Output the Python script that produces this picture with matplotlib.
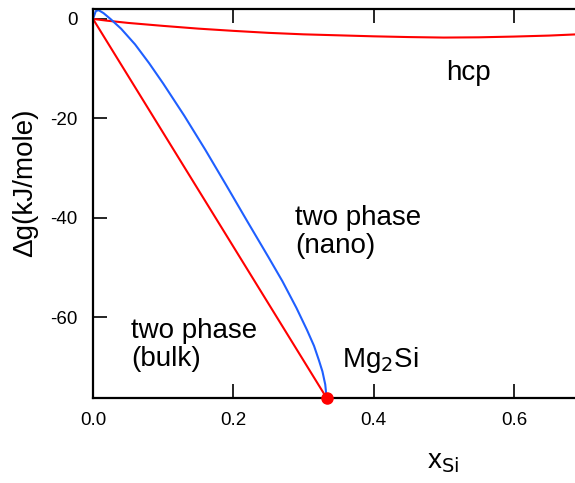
import matplotlib
matplotlib.use("Agg")
import matplotlib.pyplot as plt
import numpy as np

plt.rcParams['font.family'] = ['Liberation Sans', 'DejaVu Sans']
plt.rcParams['axes.unicode_minus'] = False

# hcp free energy curve
x_hcp = [0, 0.02, 0.05, 0.1, 0.15, 0.2, 0.25, 0.3, 0.35, 0.4, 0.45, 0.5, 0.55, 0.6, 0.65, 0.69]
g_hcp = [0, -0.35, -0.8, -1.4, -1.95, -2.4, -2.8, -3.1, -3.3, -3.5, -3.65, -3.75, -3.7, -3.55, -3.35, -3.1]

# two phase (nano) boundary
x_nano = [0, 0.004, 0.008, 0.015, 0.025, 0.04, 0.06, 0.08, 0.1, 0.13, 0.16, 0.19,
          0.22, 0.25, 0.27, 0.29, 0.305, 0.315, 0.322, 0.327, 0.331, 0.333]
g_nano = [0, 1.58, 1.77, 1.17, -0.02, -1.96, -5.13, -8.91, -12.99, -19.46, -26.32, -33.49,
          -40.76, -47.93, -52.80, -58.18, -62.61, -65.80, -68.71, -70.95, -73.57, -76.3]

# common tangent to Mg2Si (bulk)
x_bulk = [0, 0.333]
g_bulk = [0, -76.3]

fig = plt.figure(figsize=(5.75, 4.83), dpi=100)
ax = fig.add_axes([93/575, 1-398/483, (575-93)/575, (398-9)/483])

ax.plot(x_hcp, g_hcp, color='#ff0000', lw=1.5)
ax.plot(x_bulk, g_bulk, color='#ff0000', lw=1.5)
ax.plot(x_nano, g_nano, color='#1f5fff', lw=1.5)
ax.plot(x_bulk[1], g_bulk[1], 'o', color='#ff0000', ms=8, clip_on=False, zorder=5)

ax.set_xlim(0, 0.687)
ax.set_ylim(-76.3, 2.0)
ax.set_xticks([0.0, 0.2, 0.4, 0.6])
ax.set_xticklabels(['0.0', '0.2', '0.4', '0.6'])
ax.set_yticks([0, -20, -40, -60])
ax.tick_params(direction='in', length=10, width=1.2, labelsize=13.5, top=True)
ax.tick_params(axis='x', pad=10)
ax.tick_params(axis='y', pad=11)
ax.spines['right'].set_visible(False)
for s in ['left', 'top', 'bottom']:
    ax.spines[s].set_linewidth(1.6)

ax.text(0.504, -10.9, 'hcp', fontsize=20, ha='left', va='center')
ax.text(0.288, -42.9, 'two phase\n(nano)', fontsize=20, ha='left', va='center', linespacing=1.1)
ax.text(0.054, -65.7, 'two phase\n(bulk)', fontsize=20, ha='left', va='center', linespacing=1.1)
ax.text(0.355, -68.7, 'Mg$_2$Si', fontsize=20, ha='left', va='center')

fig.text(25/575, 1-183/483, 'Δg(kJ/mole)', fontsize=20, rotation=90, ha='center', va='center')
fig.text(443/575, 1-462/483, 'x$_{\\mathrm{Si}}$', fontsize=20, ha='center', va='center')

fig.savefig('out.png', dpi=100)
